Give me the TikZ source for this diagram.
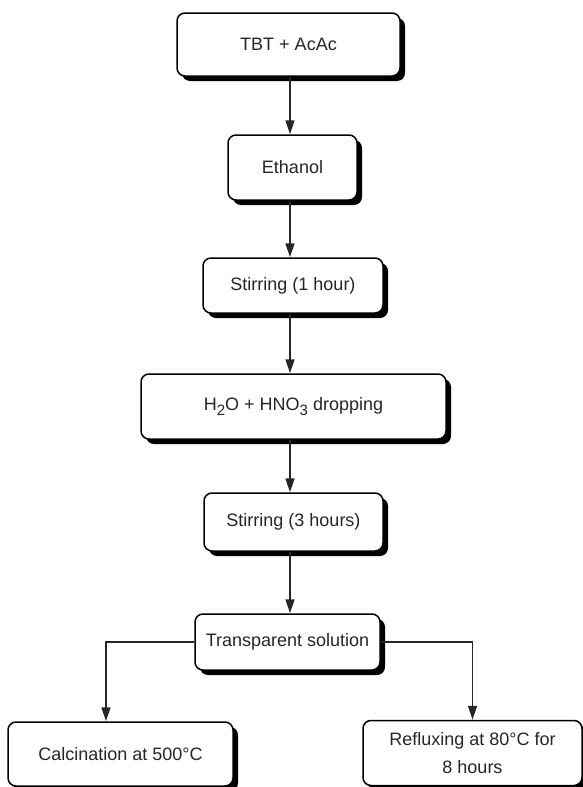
\documentclass[tikz,border=0pt]{standalone}
\usepackage{fontspec}
\setmainfont{Liberation Sans}
\usetikzlibrary{shadows,arrows.meta}
\newcommand{\lowsub}[1]{\raisebox{-5pt}{\fontsize{15}{15}\selectfont #1}}
\tikzset{
  stepbox/.style={draw=black, line width=1.5pt, rounded corners=8pt, fill=white,
    align=center, inner sep=0pt, text=black!85,
    font=\fontsize{18}{28}\selectfont,
    drop shadow={shadow xshift=5pt, shadow yshift=-5pt, fill=black, opacity=1}},
  arr/.style={draw=black!85, line width=1.5pt, -{Triangle[length=14pt,width=9pt]}}
}
\begin{document}
\begin{tikzpicture}[x=1pt,y=-1pt]
\useasboundingbox (0,0) rectangle (583,787);
\coordinate (axis) at (290,0);
\coordinate (lx) at (106,0);
\node[stepbox, minimum width=223pt, minimum height=63pt] (b1) at (288.5,44.5) {TBT + AcAc};
\node[stepbox, minimum width=129pt, minimum height=65pt] (b2) at (292.5,167.5) {Ethanol};
\node[stepbox, minimum width=180pt, minimum height=55pt] (b3) at (293,285.5) {Stirring (1 hour)};
\node[stepbox, minimum width=305pt, minimum height=65pt] (b4) at (293.5,406.5) {H\lowsub{2}O + HNO\lowsub{3} dropping};
\node[stepbox, minimum width=179pt, minimum height=58pt] (b5) at (293.5,522) {Stirring (3 hours)};
\node[stepbox, minimum width=185pt, minimum height=56pt] (b6) at (287.5,642) {Transparent solution};
\node[stepbox, minimum width=225pt, minimum height=64pt] (b7) at (120.5,754) {Calcination at 500°C};
\node[stepbox, minimum width=219pt, minimum height=65pt] (b8) at (472.5,753) {Refluxing at 80°C for\\8 hours};
\draw[arr] (b1.south -| axis) -- (b2.north -| axis);
\draw[arr] (b2.south -| axis) -- (b3.north -| axis);
\draw[arr] (b3.south -| axis) -- (b4.north -| axis);
\draw[arr] (b4.south -| axis) -- (b5.north -| axis);
\draw[arr] (b5.south -| axis) -- (b6.north -| axis);
\draw[arr] (b6.west) -| (b7.north -| lx);
\draw[arr] (b6.east) -| (b8.north);
\end{tikzpicture}
\end{document}
